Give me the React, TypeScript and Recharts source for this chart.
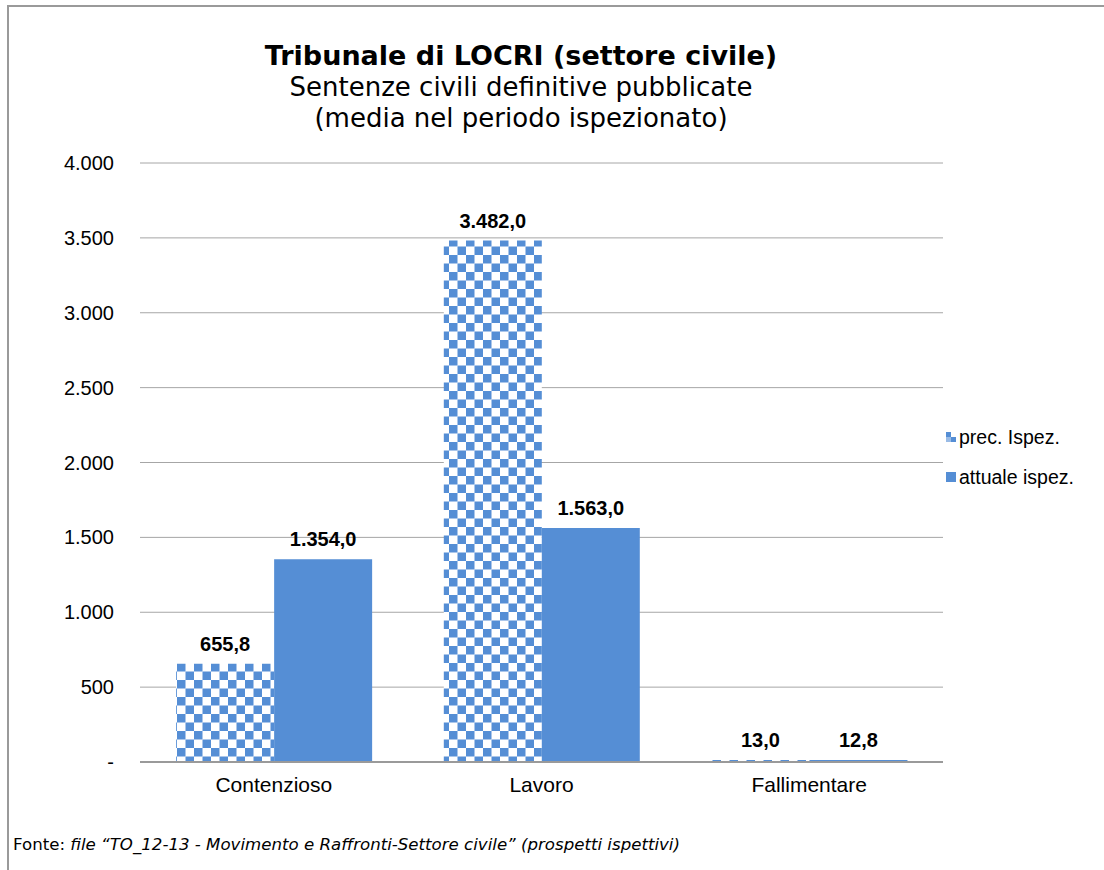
import React from "react";
import { BarChart, Bar, XAxis, YAxis, CartesianGrid, LabelList } from "recharts";

const categories = ["Contenzioso", "Lavoro", "Fallimentare"];
const precIspez = [655.8, 3482.0, 13.0];
const attualeIspez = [1354.0, 1563.0, 12.8];
const yTicks = [0, 500, 1000, 1500, 2000, 2500, 3000, 3500, 4000];
const seriesNames = ["prec. Ispez.", "attuale ispez."];

const data = categories.map((c, i) => ({ name: c, prec: precIspez[i], attuale: attualeIspez[i] }));

const BLUE = "#558ED5";

const fmtTick = (v: number) => (v === 0 ? "-" : v.toLocaleString("de-DE"));
const fmtLabel = (v: number) =>
  v.toLocaleString("de-DE", { minimumFractionDigits: 1, maximumFractionDigits: 1 });

const LegendBox = () => (
  <div
    style={{
      position: "absolute",
      left: 946,
      top: 417,
      fontFamily: "'Liberation Sans', Arial, sans-serif",
      fontSize: 19.5,
      color: "#000",
      whiteSpace: "nowrap",
    }}
  >
    <div style={{ display: "flex", alignItems: "center", height: 40 }}>
      <svg width={10} height={10} style={{ marginRight: 3 }}>
        <rect x={0} y={0} width={5} height={5} fill={BLUE} />
        <rect x={5} y={5} width={5} height={5} fill={BLUE} />
        <rect x={0} y={5} width={5} height={5} fill={BLUE} opacity={0.6} />
      </svg>
      <span>{seriesNames[0]}</span>
    </div>
    <div style={{ display: "flex", alignItems: "center", height: 40 }}>
      <svg width={10} height={10} style={{ marginRight: 3 }}>
        <rect x={0} y={0} width={10} height={10} fill={BLUE} />
      </svg>
      <span>{seriesNames[1]}</span>
    </div>
  </div>
);

export default function App() {
  return (
    <div style={{ position: "absolute", left: 0, top: 0, width: 1104, height: 870, background: "#fff", overflow: "hidden" }}>
      <div
        style={{
          position: "absolute",
          left: 7,
          top: 5,
          right: -20,
          bottom: -20,
          borderLeft: "2px solid #9a9a9a",
          borderTop: "2px solid #9a9a9a",
        }}
      />
      <div style={{ position: "absolute", left: 0, top: 0 }}>
        <BarChart
          width={1104}
          height={870}
          data={data}
          margin={{ top: 163, right: 161, bottom: 78, left: 0 }}
          barCategoryGap="13.5%"
          barGap={0}
        >
          <defs>
            <pattern id="checker" patternUnits="userSpaceOnUse" width={17} height={17} x={177} y={0}>
              <rect x={0} y={0} width={17} height={17} fill="#fff" />
              <rect x={0} y={0} width={8.5} height={8.5} fill={BLUE} />
              <rect x={8.5} y={8.5} width={8.5} height={8.5} fill={BLUE} />
            </pattern>
          </defs>
          <CartesianGrid vertical={false} stroke="#a6a6a6" strokeWidth={1} />
          <XAxis
            dataKey="name"
            axisLine={{ stroke: "#9a9a9a", strokeWidth: 2 }}
            tickLine={false}
            tickSize={0}
            tickMargin={15}
            height={30}
            tick={{ fill: "#000", fontSize: 21, fontFamily: "'Liberation Sans', Arial, sans-serif" }}
          />
          <YAxis
            domain={[0, 4000]}
            ticks={yTicks}
            width={140}
            axisLine={false}
            tickLine={false}
            tickSize={0}
            tickMargin={26}
            tickFormatter={fmtTick}
            tick={{ fill: "#000", fontSize: 20, fontFamily: "'Liberation Sans', Arial, sans-serif" }}
          />
          <Bar dataKey="prec" name={seriesNames[0]} fill="url(#checker)" isAnimationActive={false}>
            <LabelList
              dataKey="prec"
              position="top"
              offset={13}
              formatter={fmtLabel}
              fill="#000"
              fontSize={20}
              fontWeight="bold"
              fontFamily="'Liberation Sans', Arial, sans-serif"
            />
          </Bar>
          <Bar dataKey="attuale" name={seriesNames[1]} fill={BLUE} isAnimationActive={false}>
            <LabelList
              dataKey="attuale"
              position="top"
              offset={13}
              formatter={fmtLabel}
              fill="#000"
              fontSize={20}
              fontWeight="bold"
              fontFamily="'Liberation Sans', Arial, sans-serif"
            />
          </Bar>
        </BarChart>
      </div>
      <LegendBox />
      <svg width={1104} height={870} style={{ position: "absolute", left: 0, top: 0, pointerEvents: "none" }}>
        <text x={521} y={65} textAnchor="middle" fontFamily="'DejaVu Sans', Verdana, sans-serif" fontWeight="bold" fontSize={27} fill="#000">
          Tribunale di LOCRI (settore civile)
        </text>
        <text x={521} y={96} textAnchor="middle" fontFamily="'DejaVu Sans', Verdana, sans-serif" fontSize={26} fill="#000">
          Sentenze civili definitive pubblicate
        </text>
        <text x={521} y={127} textAnchor="middle" fontFamily="'DejaVu Sans', Verdana, sans-serif" fontSize={26} fill="#000">
          (media nel periodo ispezionato)
        </text>
        <text x={13} y={850} fontFamily="'DejaVu Sans', Verdana, sans-serif" fontSize={15} fill="#000" textLength={667} lengthAdjust="spacingAndGlyphs">
          <tspan>Fonte: </tspan>
          <tspan fontStyle="italic">file “TO_12-13 - Movimento e Raffronti-Settore civile” (prospetti ispettivi)</tspan>
        </text>
      </svg>
    </div>
  );
}
